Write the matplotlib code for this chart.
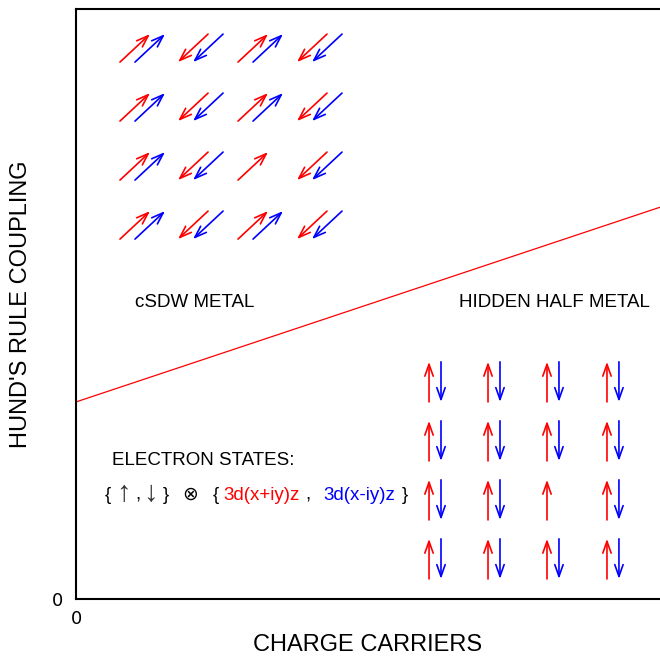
import matplotlib
matplotlib.use("Agg")
import matplotlib.pyplot as plt

# ---- data ----
# phase boundary line
boundary_x = [0.0, 10.0]
boundary_y = [3.34, 6.64]

# cSDW arrow grid (lower-left corner of each arrow pair)
diag_cols = [0.753, 1.747, 2.774, 3.784]
diag_rows = [9.10, 8.10, 7.10, 6.10]
diag_dirs = [1, -1, 1, -1]          # +1 = up-right, -1 = down-left
diag_dx, diag_dy = 0.514, 0.475
diag_blue_offset = 0.257
diag_missing_blue = [(2, 2)]        # (row, col)

# hidden half metal arrow grid (red arrow x, arrow bottom y)
vert_cols = [6.045, 7.055, 8.065, 9.092]
vert_rows = [3.34, 2.34, 1.34, 0.34]
vert_len = 0.68
vert_blue_offset = 0.205
vert_missing_blue = [(2, 2)]

xticks = [0]
yticks = [0]

RED = "#ff0000"
BLUE = "#0000ff"
FONT = ["Liberation Sans", "DejaVu Sans"]
FS = 13.5

fig = plt.figure(figsize=(6.6, 6.56), dpi=100)
ax = fig.add_axes([76 / 660, (656 - 599) / 656, (660 - 76) / 660, (599 - 9) / 656])
ax.set_xlim(0, 10)
ax.set_ylim(0, 10)

for s in ["left", "bottom", "top"]:
    ax.spines[s].set_linewidth(1.5)
ax.spines["right"].set_visible(False)

ax.plot(boundary_x, boundary_y, color=RED, lw=0.9)

astyle = "->,head_length=0.85,head_width=0.3"


def arrow(x0, y0, x1, y1, c):
    ax.annotate("", xy=(x1, y1), xytext=(x0, y0),
                arrowprops=dict(arrowstyle=astyle, color=c, lw=1.2,
                                shrinkA=0, shrinkB=0, mutation_scale=10))


for r, y in enumerate(diag_rows):
    for c, x in enumerate(diag_cols):
        d = diag_dirs[c]
        for k, col in enumerate([RED, BLUE]):
            if col == BLUE and (r, c) in diag_missing_blue:
                continue
            xo = x + k * diag_blue_offset
            if d > 0:
                arrow(xo, y, xo + diag_dx, y + diag_dy, col)
            else:
                arrow(xo + diag_dx, y + diag_dy, xo, y, col)

for r, y in enumerate(vert_rows):
    for c, x in enumerate(vert_cols):
        arrow(x, y, x, y + vert_len, RED)
        if (r, c) in vert_missing_blue:
            continue
        xb = x + vert_blue_offset
        arrow(xb, y + vert_len, xb, y, BLUE)

ax.text(2.04, 5.03, "cSDW METAL", ha="center", va="center", fontsize=FS, family=FONT)
ax.text(8.19, 5.03, "HIDDEN HALF METAL", ha="center", va="center", fontsize=FS, family=FONT)
ax.text(0.616, 2.34, "ELECTRON STATES:", ha="left", va="center", fontsize=FS, family=FONT)

ly = 1.76
ax.text(0.497, ly, "{", ha="left", va="center", fontsize=FS, family=FONT)
ax.text(0.82, ly + 0.03, "↑", ha="center", va="center", fontsize=21, family=FONT, color="#333333")
ax.text(1.01, ly, ",", ha="left", va="center", fontsize=FS, family=FONT)
ax.text(1.28, ly + 0.03, "↓", ha="center", va="center", fontsize=21, family=FONT, color="#333333")
ax.text(1.490, ly, "}", ha="left", va="center", fontsize=FS, family=FONT)
ax.text(1.815, ly, "⊗", ha="left", va="center", fontsize=FS, family=FONT)
ax.text(2.346, ly, "{", ha="left", va="center", fontsize=FS, family=FONT)
ax.text(2.517, ly, "3d(x+iy)z", ha="left", va="center", fontsize=FS, family=FONT, color=RED)
ax.text(3.921, ly, ",", ha="left", va="center", fontsize=FS, family=FONT)
ax.text(4.229, ly, "3d(x-iy)z", ha="left", va="center", fontsize=FS, family=FONT, color=BLUE)
ax.text(5.582, ly, "}", ha="left", va="center", fontsize=FS, family=FONT)

ax.set_xticks(xticks)
ax.set_yticks(yticks)
ax.set_xticklabels([str(v) for v in xticks], fontsize=13)
ax.set_yticklabels([str(v) for v in yticks], fontsize=13)
ax.tick_params(axis="x", length=0, pad=8)
ax.tick_params(axis="y", length=0, pad=9)

ax.set_xlabel("CHARGE CARRIERS", fontsize=17, family=FONT)
ax.set_ylabel("HUND'S RULE COUPLING", fontsize=17, family=FONT)
ax.xaxis.set_label_coords(0.5, -(645 - 599) / 590)
ax.xaxis.label.set_va("center")
ax.yaxis.set_label_coords(-(76 - 21) / 584, 0.5)
ax.yaxis.label.set_va("center")

fig.savefig("out.png", dpi=100)
